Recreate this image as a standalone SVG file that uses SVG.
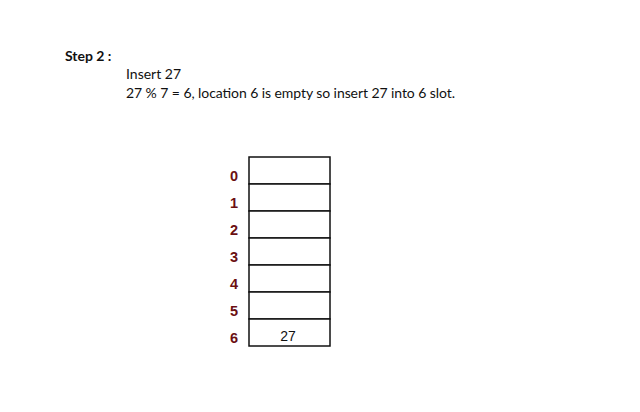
<svg xmlns="http://www.w3.org/2000/svg" width="640" height="412" viewBox="0 0 640 412">
<style>
.t{font-family:Lato,"Liberation Sans",sans-serif;font-size:14px;fill:#111}
.b{font-weight:bold}
.idx{font-family:"Liberation Sans",Arial,sans-serif;font-size:14.5px;font-weight:bold;fill:#6b0f12;text-anchor:middle}
.cell{fill:#fff;stroke:#111;stroke-width:1.5}
.v{font-family:"Liberation Sans",Arial,sans-serif;font-size:14px;fill:#111;text-anchor:middle}
</style>
<rect width="640" height="412" fill="#fff"/>
<text class="t b" x="65" y="61">Step 2 :</text>
<text class="t" x="126" y="79">Insert 27</text>
<text class="t" x="126" y="98" textLength="329" lengthAdjust="spacing">27 % 7 = 6, location 6 is empty so insert 27 into 6 slot.</text>
<g id="slot0"><rect class="cell" x="249" y="157" width="81" height="27"/><text class="idx" x="234" y="181">0</text></g>
<g id="slot1"><rect class="cell" x="249" y="184" width="81" height="27"/><text class="idx" x="234" y="208">1</text></g>
<g id="slot2"><rect class="cell" x="249" y="211" width="81" height="27"/><text class="idx" x="234" y="235">2</text></g>
<g id="slot3"><rect class="cell" x="249" y="238" width="81" height="27"/><text class="idx" x="234" y="262">3</text></g>
<g id="slot4"><rect class="cell" x="249" y="265" width="81" height="27"/><text class="idx" x="234" y="289">4</text></g>
<g id="slot5"><rect class="cell" x="249" y="292" width="81" height="27"/><text class="idx" x="234" y="316">5</text></g>
<g id="slot6"><rect class="cell" x="249" y="319" width="81" height="27"/><text class="idx" x="234" y="343">6</text><text class="v" x="288" y="341">27</text></g>
<g id="connectors"/>
</svg>
